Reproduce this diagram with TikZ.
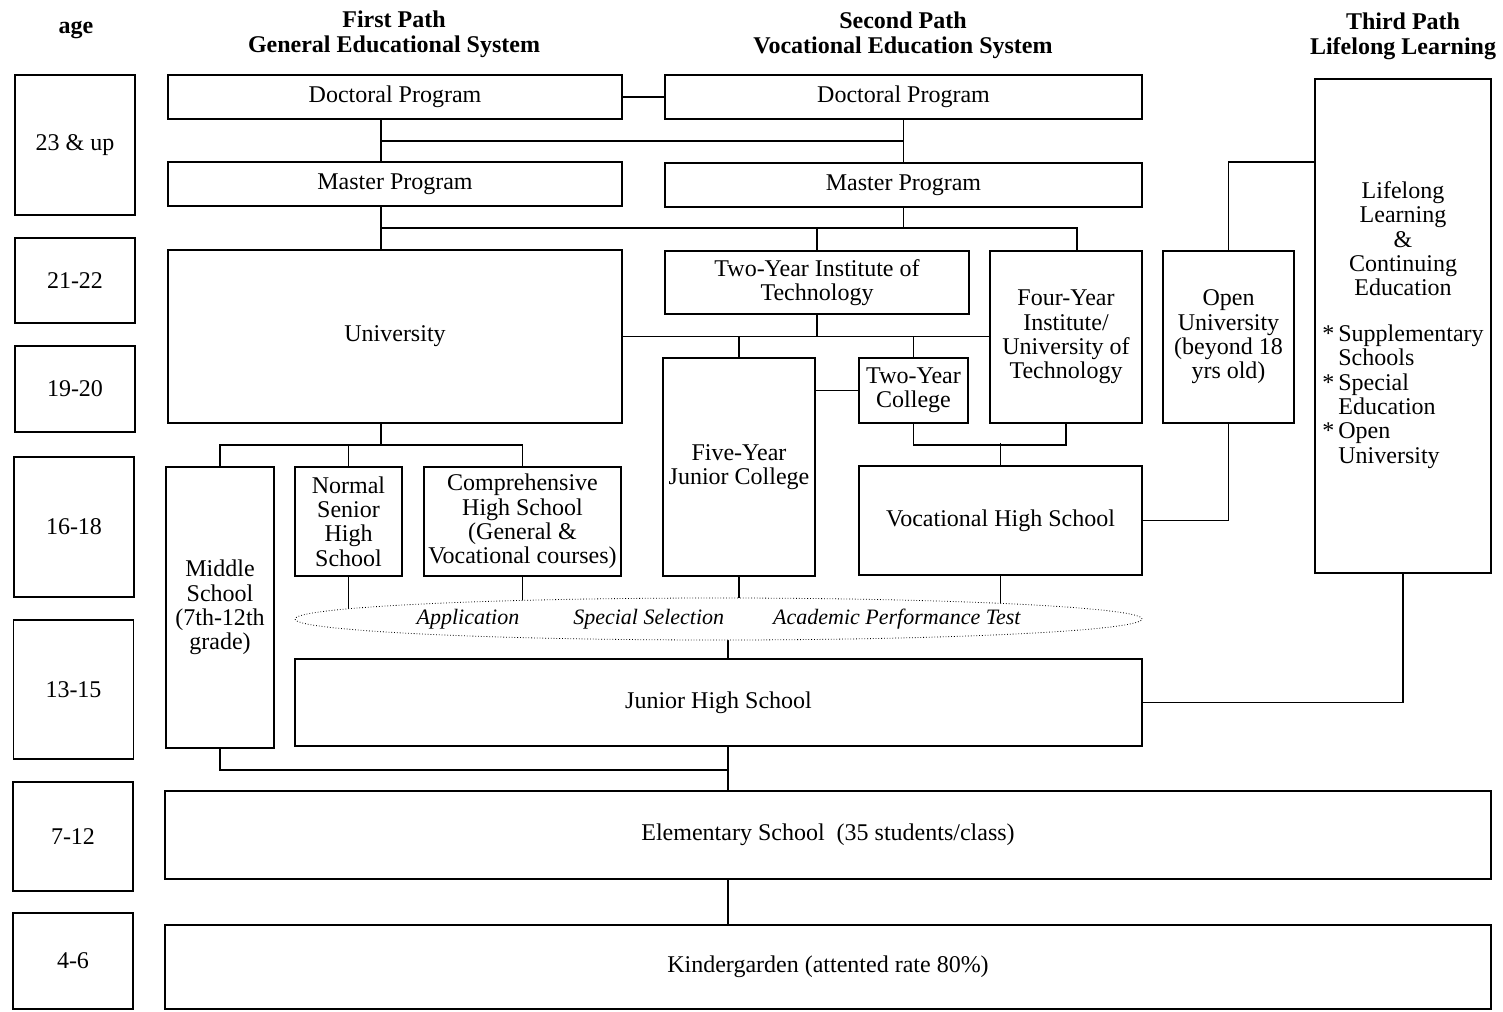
\documentclass[tikz,border=0pt]{standalone}
\usepackage{fontspec}
\setmainfont{Liberation Serif}
\usetikzlibrary{shapes.geometric,backgrounds}

\tikzset{
  box/.style={rectangle, draw, thick, fill=white, inner sep=0pt, align=center,
    font=\fontsize{12}{12.2}\selectfont},
  agebox/.style={box, minimum width=60pt},
  pathhead/.style={align=center, font=\fontsize{12}{12.5}\selectfont\bfseries},
  link/.style={thick}
}

\begin{document}
\begin{tikzpicture}[x=0.5pt, y=-0.5pt]
  \useasboundingbox (0,0) rectangle (1503,1011);

  \node[pathhead] (agehead) at (76,30) {age};
  \node[pathhead] (p1) at (394,34) {First Path\\General Educational System};
  \node[pathhead] (p2) at (903,35) {Second Path\\Vocational Education System};
  \node[pathhead] (p3) at (1403,36) {Third Path\\Lifelong Learning};

  \node[agebox, minimum height=70pt] (a1) at (75,145) {23 \& up};
  \node[agebox, minimum height=42.5pt] (a2) at (75,280.5) {21-22};
  \node[agebox, minimum height=43pt] (a3) at (75,389) {19-20};
  \node[agebox, minimum height=70pt] (a4) at (74,527) {16-18};
  \node[agebox, minimum height=69.5pt] (a5) at (73.5,689.5) {13-15};
  \node[agebox, minimum height=54.5pt] (a6) at (73,836.5) {7-12};
  \node[agebox, minimum height=48pt] (a7) at (73,961) {4-6};

  \node[box, minimum width=227pt, minimum height=22pt] (doc1) at (395,97) {Doctoral Program};
  \node[box, minimum width=227pt, minimum height=22pt] (mas1) at (395,184) {Master Program};
  \node[box, minimum width=238.5pt, minimum height=22pt] (doc2) at (903.5,97) {Doctoral Program};
  \node[box, minimum width=238.5pt, minimum height=22pt] (mas2) at (903.5,185) {Master Program};

  \node[box, minimum width=227pt, minimum height=86.5pt] (univ) at (395,336.5) {University};
  \node[box, minimum width=152pt, minimum height=31.5pt] (inst) at (817,282.5)
    {Two-Year Institute of\\Technology};
  \node[box, minimum width=76pt, minimum height=86pt] (four) at (1066,337)
    {Four-Year\\Institute/\\University of\\Technology};
  \node[box, minimum width=76pt, minimum height=109pt] (five) at (739,467)
    {Five-Year\\Junior College};
  \node[box, minimum width=54.5pt, minimum height=32.5pt] (coll) at (913.5,390.5)
    {Two-Year\\College};
  \node[box, minimum width=141.5pt, minimum height=54.5pt] (voc) at (1000.5,520.5)
    {Vocational High School};
  \node[box, minimum width=65.5pt, minimum height=86pt] (ou) at (1228.5,337)
    {Open\\University\\(beyond 18\\yrs old)};
  \node[box, minimum width=88pt, minimum height=247pt] (life) at (1403,326)
    {Lifelong\\Learning\\\&\\Continuing\\Education\\[13pt]
     \begin{tabular}{@{}l@{\,}l@{}}
       {*} & Supplementary\\
           & Schools\\
       {*} & Special\\
           & Education\\
       {*} & Open\\
           & University
     \end{tabular}};

  \node[box, minimum width=54pt, minimum height=140.5pt] (mid) at (220,607.5)
    {Middle\\School\\(7th-12th\\grade)};
  \node[box, minimum width=53.5pt, minimum height=54.5pt] (nshs) at (348.5,521.5)
    {Normal\\Senior\\High\\School};
  \node[box, minimum width=98.5pt, minimum height=54.5pt] (comp) at (522.5,521.5)
    {Comprehensive\\High School\\(General \&\\Vocational courses)};

  \node[
  ellipse,
  draw,
  densely dotted,
  fill=white,
  inner sep=0pt,
  minimum width=423.5pt,
  minimum height=21pt,
  font=\fontsize{11}{12}\selectfont\itshape] (sel) at (718.5,619)
    {\makebox[0pt]{Application\hspace{27pt}Special Selection\hspace{24.5pt}Academic Performance Test}};

  \node[box, minimum width=423.5pt, minimum height=43.5pt] (jhs) at (718.5,702.5) {Junior High School};
  \node[box, minimum width=663pt, minimum height=44pt] (elem) at (828,835)
    {Elementary School\ \ (35 students/class)};
  \node[box, minimum width=663pt, minimum height=42pt] (kind) at (828,967)
    {Kindergarden (attented rate 80\%)};

  \coordinate (j1) at (381,141);
  \coordinate (j2) at (381,228);
  \coordinate (j3) at (1077,228);
  \coordinate (j4) at (381,445);
  \coordinate (spine) at (728,770);

  \begin{scope}[on background layer]
    \draw[link] (doc1.east) -- (doc2.west);
    \draw[link] (doc1.south -| j1) -- (mas1.north -| j1);
    \draw[link] (j1) -- (j1 -| doc2);
    \draw[link] (doc2.south) -- (mas2.north);

    \draw[link] (mas1.south -| j2) -- (univ.north -| j2);
    \draw[link] (j2) -- (j3) -- (j3 |- four.north);
    \draw[link] (mas2.south) -- (mas2 |- j2);
    \draw[link] (inst.north) -- (inst |- j2);

    \draw[link] (univ.east) -- (univ.east -| four.west);
    \draw[link] (inst.south) -- (inst |- univ.east);
    \draw[link] (five.north) -- (five |- univ.east);
    \draw[link] (coll.north) -- (coll |- univ.east);
    \draw[link] (five.east |- coll) -- (coll.west);
    \draw[link] (coll.south) -- ++(0,21) -| (four.south);
    \draw[link] (voc.north) -- ++(0,-22);

    \draw[link] (ou.north) |- (life.west |- mas2.north);
    \draw[link] (voc.east) -| (ou.south);
    \draw[link] (life.south) |- (jhs.east);

    \draw[link] (univ.south -| j4) -- (j4);
    \draw[link] (mid.north) |- (comp |- j4) -- (comp.north);
    \draw[link] (nshs.north) -- (nshs |- j4);

    \draw[link] (nshs.south) -- (nshs |- sel.center);
    \draw[link] (comp.south) -- (comp |- sel.center);
    \draw[link] (five.south) -- (five |- sel.center);
    \draw[link] (voc.south) -- (voc |- sel.center);
    \draw[link] (spine |- jhs.north) -- (spine |- sel.center);

    \draw[link] (mid.south) |- (spine);
    \draw[link] (spine |- jhs.south) -- (spine |- elem.north);
    \draw[link] (spine |- elem.south) -- (spine |- kind.north);
  \end{scope}
\end{tikzpicture}
\end{document}
